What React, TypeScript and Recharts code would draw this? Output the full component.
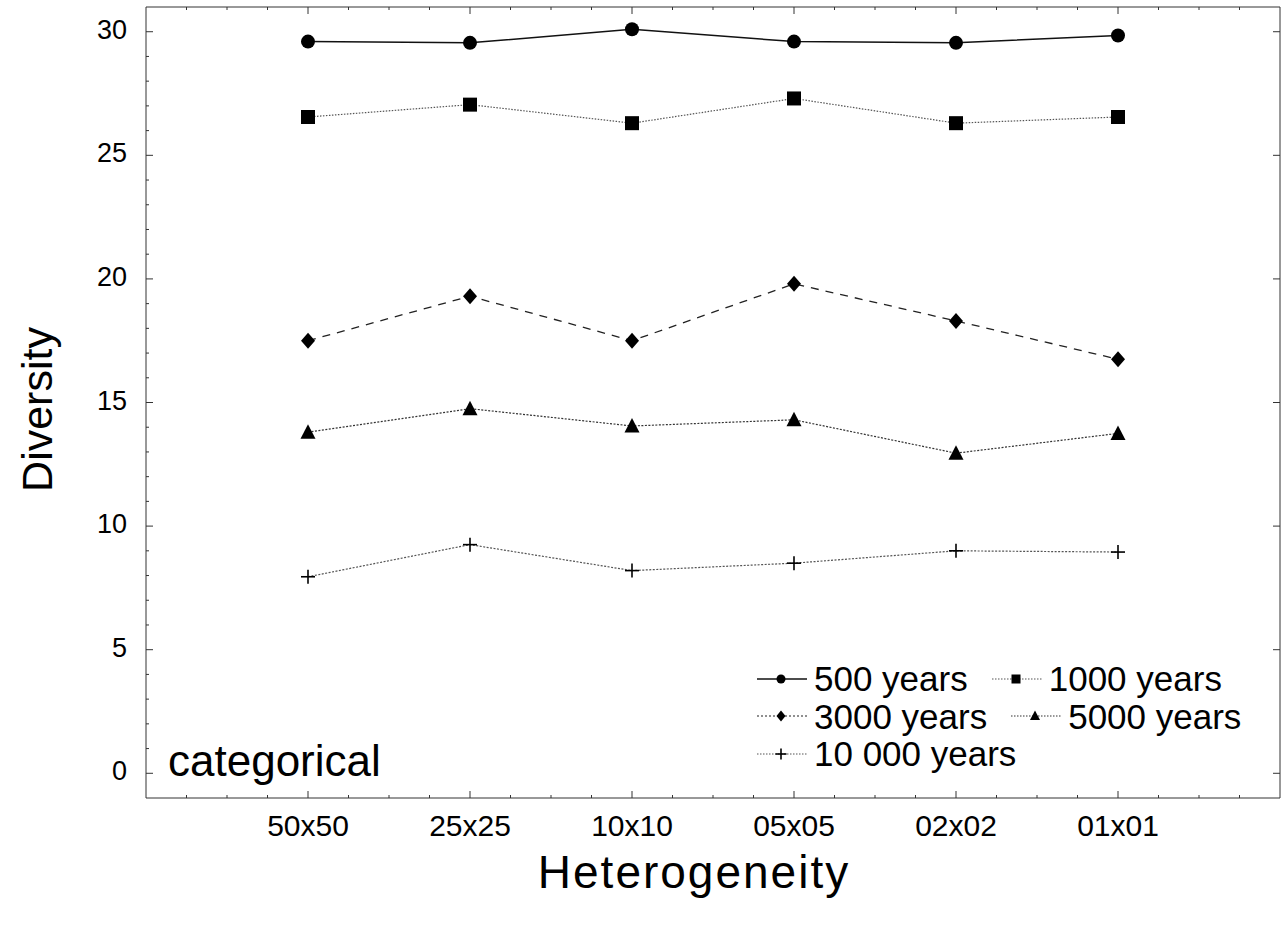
import { LineChart, Line, XAxis, YAxis, Legend } from "recharts";

// Heterogeneity levels along the x axis
const categories = ["50x50", "25x25", "10x10", "05x05", "02x02", "01x01"];

// Diversity per time horizon
const years500 = [29.6, 29.55, 30.1, 29.6, 29.55, 29.85];
const years1000 = [26.55, 27.05, 26.3, 27.3, 26.3, 26.55];
const years3000 = [17.5, 19.3, 17.5, 19.8, 18.3, 16.75];
const years5000 = [13.8, 14.75, 14.05, 14.3, 12.95, 13.75];
const years10000 = [7.95, 9.25, 8.2, 8.5, 9.0, 8.95];

const yMajorTicks = [0, 5, 10, 15, 20, 25, 30];
const yMinorTicks = Array.from({ length: 31 }, (_, i) => i);
const xTicks = Array.from({ length: 27 }, (_, i) => -0.75 + i * 0.25);

const AXIS = "#333";
const FONT = '"Liberation Sans", Arial, sans-serif';

type Shape = "circle" | "square" | "diamond" | "triangle" | "plus";

const series: {
  key: string;
  name: string;
  stroke: string;
  width: number;
  dash?: string;
  legendDash?: string;
  shape: Shape;
}[] = [
  { key: "y500", name: "500 years", stroke: "#111", width: 1.5, shape: "circle" },
  { key: "y1000", name: "1000 years", stroke: "#555", width: 1.2, dash: "1.5 1.5", legendDash: "1.5 1.5", shape: "square" },
  { key: "y3000", name: "3000 years", stroke: "#222", width: 1.3, dash: "8 7", legendDash: "2 2", shape: "diamond" },
  { key: "y5000", name: "5000 years", stroke: "#333", width: 1.2, dash: "2 1.5", legendDash: "1.5 1.5", shape: "triangle" },
  { key: "y10000", name: "10 000 years", stroke: "#555", width: 1.2, dash: "2 1.5", legendDash: "1.5 1.5", shape: "plus" },
];

const data = categories.map((name, i) => ({
  x: i,
  name,
  y500: years500[i],
  y1000: years1000[i],
  y3000: years3000[i],
  y5000: years5000[i],
  y10000: years10000[i],
}));

function Marker({ shape, cx, cy, s }: { shape: Shape; cx: number; cy: number; s: number }) {
  switch (shape) {
    case "circle":
      return <circle cx={cx} cy={cy} r={s} fill="#000" />;
    case "square":
      return <rect x={cx - s} y={cy - s} width={s * 2} height={s * 2} fill="#000" />;
    case "diamond":
      return (
        <polygon
          points={`${cx},${cy - s - 1} ${cx + s},${cy} ${cx},${cy + s + 1} ${cx - s},${cy}`}
          fill="#000"
        />
      );
    case "triangle":
      return (
        <polygon
          points={`${cx},${cy - s - 1} ${cx + s + 0.5},${cy + s - 0.5} ${cx - s - 0.5},${cy + s - 0.5}`}
          fill="#000"
        />
      );
    default:
      return (
        <g stroke="#000" strokeWidth={1.6}>
          <line x1={cx - s} y1={cy} x2={cx + s} y2={cy} />
          <line x1={cx} y1={cy - s} x2={cx} y2={cy + s} />
        </g>
      );
  }
}

const dotFor = (shape: Shape) => (props: any) => {
  const { cx, cy, index } = props;
  if (cx == null || cy == null) return <g key={index} />;
  return (
    <g key={`${shape}-${index}`}>
      <Marker shape={shape} cx={cx} cy={cy} s={7} />
    </g>
  );
};

function BottomTick(props: any) {
  const { x, y, payload } = props;
  const v = payload.value as number;
  const major = Number.isInteger(v);
  return (
    <g>
      <line x1={x} y1={y} x2={x} y2={y - (major ? 7 : 3)} stroke={AXIS} />
      {major && v >= 0 && v < categories.length && (
        <text x={x} y={y + 38} textAnchor="middle" fontSize={30} fontFamily={FONT} fill="#000">
          {categories[v]}
        </text>
      )}
    </g>
  );
}

function TopTick(props: any) {
  const { x, y, payload } = props;
  const major = Number.isInteger(payload.value);
  return <line x1={x} y1={y} x2={x} y2={y + (major ? 7 : 3)} stroke={AXIS} />;
}

function LeftTick(props: any) {
  const { x, y, payload } = props;
  const v = payload.value as number;
  const major = v % 5 === 0;
  return (
    <g>
      <line x1={x} y1={y} x2={x + (major ? 7 : 3)} y2={y} stroke={AXIS} />
      {major && (
        <text x={x - 19} y={y + 7} textAnchor="end" fontSize={27} fontFamily={FONT} fill="#000">
          {v}
        </text>
      )}
    </g>
  );
}

function RightTick(props: any) {
  const { x, y } = props;
  return <line x1={x} y1={y} x2={x - 7} y2={y} stroke={AXIS} />;
}

function ChartLegend() {
  const rows = [series.slice(0, 2), series.slice(2, 4), series.slice(4)];
  return (
    <div style={{ fontFamily: FONT, fontSize: 35, color: "#000" }}>
      {rows.map((row, r) => (
        <div key={r} style={{ display: "flex", gap: 24, height: 37.5, alignItems: "center" }}>
          {row.map((s) => (
            <div key={s.key} style={{ display: "flex", alignItems: "center", whiteSpace: "nowrap" }}>
              <svg width={50} height={16} style={{ marginRight: 7 }}>
                <line
                  x1={0}
                  y1={8}
                  x2={50}
                  y2={8}
                  stroke={s.key === "y500" ? "#111" : s.stroke}
                  strokeWidth={s.key === "y500" ? 1.5 : 1.2}
                  strokeDasharray={s.legendDash}
                />
                <Marker shape={s.shape} cx={24} cy={8} s={s.shape === "plus" ? 5.5 : 4.5} />
              </svg>
              <span style={{ lineHeight: "37.5px" }}>{s.name}</span>
            </div>
          ))}
        </div>
      ))}
    </div>
  );
}

export default function App() {
  return (
    <div
      style={{
        position: "absolute",
        left: 0,
        top: 0,
        width: 1281,
        height: 936,
        background: "#fff",
        fontFamily: FONT,
      }}
    >
      <LineChart width={1281} height={936} data={data} margin={{ top: 6, right: 0, left: 0, bottom: 0 }}>
        <XAxis
          dataKey="x"
          type="number"
          domain={[-1, 6]}
          ticks={xTicks}
          interval={0}
          allowDataOverflow
          height={138}
          tickSize={0}
          tickMargin={0}
          tickLine={false}
          axisLine={{ stroke: AXIS }}
          tick={<BottomTick />}
          label={{
            value: "Heterogeneity",
            position: "insideBottom",
            offset: 48,
            dx: -19,
            fontSize: 46,
            fill: "#000",
            fontFamily: FONT,
            letterSpacing: 2,
          }}
        />
        <XAxis
          xAxisId="top"
          orientation="top"
          dataKey="x"
          type="number"
          domain={[-1, 6]}
          ticks={xTicks}
          interval={0}
          allowDataOverflow
          height={1}
          tickSize={0}
          tickMargin={0}
          tickLine={false}
          axisLine={{ stroke: AXIS }}
          tick={<TopTick />}
        />
        <YAxis
          type="number"
          domain={[-1, 31]}
          ticks={yMinorTicks}
          interval={0}
          allowDataOverflow
          width={146}
          tickSize={0}
          tickMargin={0}
          tickLine={false}
          axisLine={{ stroke: AXIS }}
          tick={<LeftTick />}
          label={{
            content: (p: any) => {
              const vb = p.viewBox;
              const cy = vb.y + vb.height / 2 + 7;
              return (
                <text
                  x={52}
                  y={cy}
                  transform={`rotate(-90, 52, ${cy})`}
                  textAnchor="middle"
                  fontSize={43}
                  fontFamily={FONT}
                  fill="#000"
                >
                  Diversity
                </text>
              );
            },
          }}
        />
        <YAxis
          yAxisId="right"
          orientation="right"
          type="number"
          domain={[-1, 31]}
          ticks={yMajorTicks}
          interval={0}
          allowDataOverflow
          width={1}
          tickSize={0}
          tickMargin={0}
          tickLine={false}
          axisLine={{ stroke: AXIS }}
          tick={<RightTick />}
        />
        <Legend
          layout="horizontal"
          verticalAlign="middle"
          align="center"
          content={() => <ChartLegend />}
          wrapperStyle={{ position: "absolute", left: 757, top: 660, width: 520, bottom: "auto" }}
        />
        {series.map((s) => (
          <Line
            key={s.key}
            dataKey={s.key}
            name={s.name}
            type="linear"
            stroke={s.stroke}
            strokeWidth={s.width}
            strokeDasharray={s.dash}
            dot={dotFor(s.shape)}
            activeDot={false}
            isAnimationActive={false}
          />
        ))}
        {/* invisible twin so the top and right frame axes get drawn */}
        <Line
          xAxisId="top"
          yAxisId="right"
          dataKey="y500"
          stroke="none"
          dot={false}
          activeDot={false}
          legendType="none"
          isAnimationActive={false}
        />
      </LineChart>
      <div
        style={{
          position: "absolute",
          left: 168,
          top: 739,
          fontSize: 44,
          lineHeight: "44px",
          color: "#000",
          whiteSpace: "nowrap",
        }}
      >
        categorical
      </div>
    </div>
  );
}
